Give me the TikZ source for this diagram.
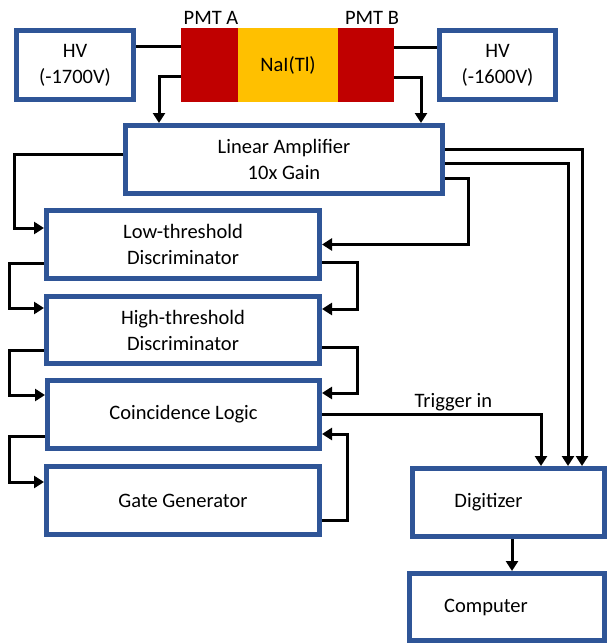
\documentclass[tikz,border=0pt]{standalone}
\usepackage{fontspec}
\setmainfont{Carlito}
\usetikzlibrary{arrows.meta}
\definecolor{boxblue}{RGB}{47,85,151}
\definecolor{pmtred}{RGB}{192,0,0}
\definecolor{naiyellow}{RGB}{255,192,0}
\tikzset{
  box/.style={draw=boxblue, line width=5pt, fill=white, align=center},
  wire/.style={line width=3pt},
  sig/.style={wire, -{Triangle[length=10pt,width=12pt]}}
}
\begin{document}
\begin{tikzpicture}[x=1pt, y=-1pt, font=\fontsize{20.5}{26}\selectfont]
\useasboundingbox (0,0) rectangle (608,643);
            \node [box, minimum width=117pt, minimum height=69pt] (hvA) at (75,65) {HV\\(-1700V)};
            \node [box, minimum width=116pt, minimum height=69pt] (hvB) at (497.5,65) {HV\\(-1600V)};
            \node [fill=pmtred, minimum width=57pt, minimum height=74pt] (pmtA) at (209.5,65) {};
            \node [fill=naiyellow, minimum width=100pt, minimum height=74pt] (nai) at (288,65) {NaI(Tl)};
            \node [fill=pmtred, minimum width=56pt, minimum height=74pt] (pmtB) at (366,65) {};
            \node [above=0pt, xshift=1.5pt] (labA) at (pmtA.north) {PMT A};
            \node [above=0pt, xshift=6pt] (labB) at (pmtB.north) {PMT B};
            \node [box, minimum width=317pt, minimum height=68pt] (amp) at (284,159.5) {Linear Amplifier\\10x Gain};
            \node [box, minimum width=273pt, minimum height=68pt] (low) at (183,244.5) {Low-threshold\\Discriminator};
            \node [box, minimum width=273pt, minimum height=67pt] (high) at (183,330) {High-threshold\\Discriminator};
            \node [box, minimum width=272pt, minimum height=68pt] (coinc) at (183.5,414.5) {Coincidence Logic};
            \node [box, minimum width=273pt, minimum height=68pt] (gate) at (183,500.5) {Gate Generator};
            \node [box, minimum width=192pt, minimum height=68pt, label={[xshift=-20pt]center:Digitizer}] (digi) at (508.5,502.5) {};
            \node [box, minimum width=195pt, minimum height=67pt, label={[xshift=-21pt]center:Computer}] (comp) at (507,607) {};

            \draw [wire] ([yshift=19pt]hvA.east) -- ([yshift=19pt]pmtA.west);
            \draw [wire] ([yshift=18pt]pmtB.east) -- ([yshift=18pt]hvB.west);
            \draw [sig] ([yshift=-11pt]pmtA.west) -| ([xshift=36pt]amp.north west);
            \draw [sig] ([yshift=-12pt]pmtB.east) -| ([xshift=-24pt]amp.north east);

            \draw [sig] ([yshift=5.5pt]amp.west) -- ++(-109pt,0) |- ([yshift=16.5pt]low.west);
            \draw [sig] ([yshift=-18.5pt]amp.east) -- ++(23pt,0) |- (low.east);
            \draw [sig] ([yshift=10.5pt]amp.east) -| ([xshift=73.5pt]digi.north);
            \draw [sig] ([yshift=-3.5pt]amp.east) -| ([xshift=59.5pt]digi.north);

            \draw [sig] ([yshift=-18.5pt]low.west) -- ++(-35pt,0) |- ([yshift=22pt]high.west);
            \draw [sig] ([yshift=-17.5pt]low.east) -- ++(35pt,0) |- ([yshift=21pt]high.east);
            \draw [sig] ([yshift=-20pt]high.west) -- ++(-35pt,0) |- ([yshift=19.5pt]coinc.west);
            \draw [sig] ([yshift=-17pt]high.east) -- ++(35pt,0) |- ([yshift=21.5pt]coinc.east);
            \draw [sig] ([yshift=-21.5pt]coinc.west) -- ++(-36pt,0) |- ([yshift=18.5pt]gate.west);
            \draw [sig] ([yshift=-19.5pt]gate.east) -- ++(25pt,0) |- ([yshift=-19.5pt]coinc.east);

            \draw [sig] (coinc.east) -| ([xshift=32.5pt]digi.north) node [pos=.3, above=-1pt] {Trigger in};
            \draw [sig] ([xshift=3.5pt]digi.south) -- ([xshift=3.5pt]digi.south |- comp.north);
        \end{tikzpicture}
\end{document}
